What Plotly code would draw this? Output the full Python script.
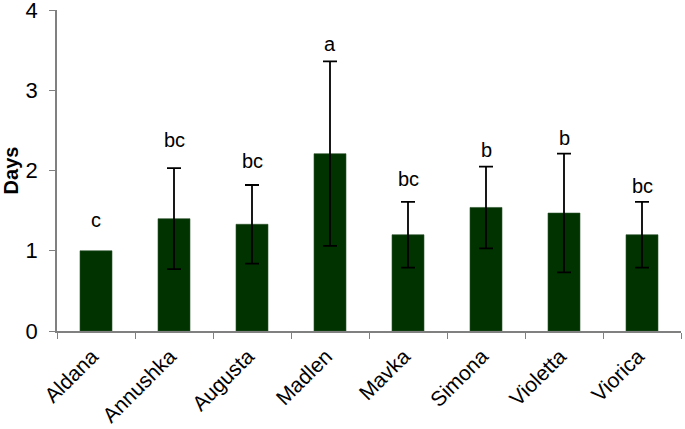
import plotly.graph_objects as go

cultivars = ['Aldana', 'Annushka', 'Augusta', 'Madlen', 'Mavka', 'Simona', 'Violetta', 'Viorica']
days = [1.00, 1.40, 1.33, 2.21, 1.20, 1.54, 1.47, 1.20]
err = [None, 0.63, 0.49, 1.15, 0.41, 0.51, 0.74, 0.41]  # Aldana has no error bar
letters = ['c', 'bc', 'bc', 'a', 'bc', 'b', 'b', 'bc']
letter_y = [1.22, 2.22, 1.96, 3.41, 1.73, 2.10, 2.24, 1.65]

font = 'Liberation Sans, Arial, sans-serif'

fig = go.Figure()
fig.add_trace(go.Bar(
    x=cultivars, y=days,
    marker=dict(color='#003300', line=dict(color='#2a502a', width=0.6)),
    width=0.41,
))

# error bars only where there is a value
has_err = [i for i, e in enumerate(err) if e is not None]
fig.add_trace(go.Scatter(
    x=[cultivars[i] for i in has_err], y=[days[i] for i in has_err],
    mode='markers', marker=dict(size=1, opacity=0),
    error_y=dict(type='data', array=[err[i] for i in has_err], visible=True,
                 color='black', thickness=1.8, width=7),
    hoverinfo='skip',
))

for c, t, ly in zip(cultivars, letters, letter_y):
    fig.add_annotation(x=c, y=ly, text=t, showarrow=False, yanchor='bottom',
                       font=dict(family=font, size=20, color='black'))

fig.update_layout(
    width=685, height=429,
    margin=dict(l=57, r=4, t=10, b=98),
    plot_bgcolor='white', paper_bgcolor='white',
    showlegend=False,
    font=dict(family=font, size=20, color='black'),
)
fig.update_xaxes(
    showline=True, linecolor='#808080', linewidth=1.5,
    ticks='outside', tickson='boundaries', ticklen=6, tickcolor='#808080',
    tickangle=-45, tickfont=dict(size=21),
    ticklabelshift=-4, ticklabelstandoff=3,
    showgrid=False, automargin=False,
)
fig.update_yaxes(
    range=[0, 4.001], tickvals=[0, 1, 2, 3, 4],
    showline=True, linecolor='#808080', linewidth=1.5,
    ticks='outside', ticklen=6, tickcolor='#808080',
    ticklabelstandoff=7, ticklabeloverflow='allow',
    showgrid=False, zeroline=False, automargin=False,
    title=dict(text='<b>Days</b>', font=dict(size=20), standoff=3),
    tickfont=dict(size=22),
)

fig.write_html('out.html', config={'displayModeBar': False},
               post_script="document.body.style.margin='0';")
